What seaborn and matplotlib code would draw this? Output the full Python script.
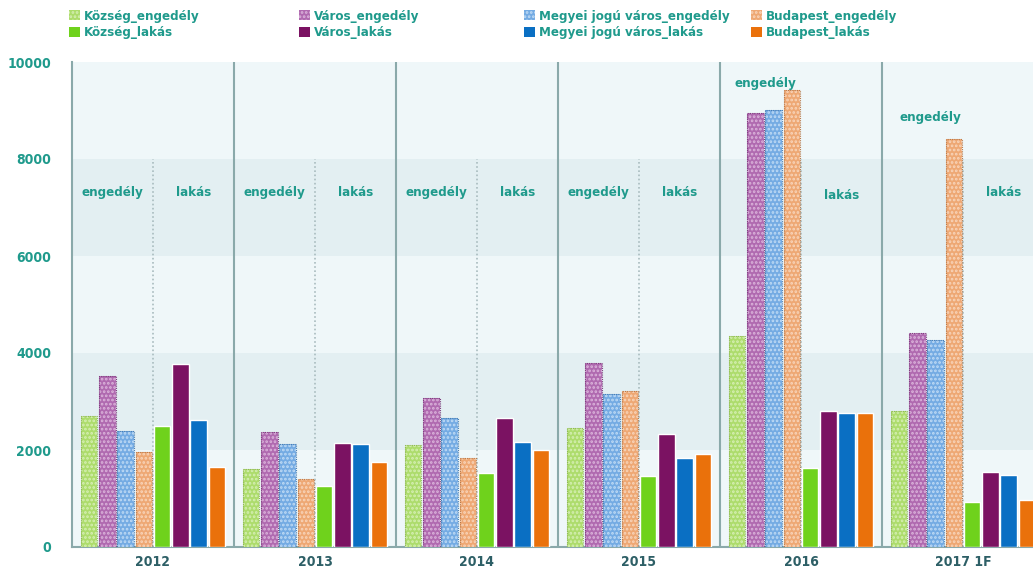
import matplotlib
matplotlib.use("Agg")
import matplotlib.pyplot as plt
from matplotlib.patches import Patch, Rectangle
import numpy as np
import pandas as pd
import seaborn as sns

# --- data -----------------------------------------------------------------
years = ["2012", "2013", "2014", "2015", "2016", "2017 1F"]

kozseg_engedely = [2700, 1600, 2100, 2450, 4350, 2800]
varos_engedely = [3520, 2370, 3070, 3800, 8950, 4420]
megyei_engedely = [2400, 2120, 2670, 3160, 9020, 4270]
budapest_engedely = [1960, 1410, 1840, 3210, 9420, 8420]

kozseg_lakas = [2500, 1250, 1530, 1460, 1620, 920]
varos_lakas = [3780, 2140, 2660, 2340, 2810, 1550]
megyei_lakas = [2620, 2120, 2160, 1840, 2770, 1480]
budapest_lakas = [1640, 1750, 2010, 1920, 2770, 970]

series_names = [
    "Község_engedély", "Város_engedély", "Megyei jogú város_engedély", "Budapest_engedély",
    "Község_lakás", "Város_lakás", "Megyei jogú város_lakás", "Budapest_lakás",
]
series_values = [
    kozseg_engedely, varos_engedely, megyei_engedely, budapest_engedely,
    kozseg_lakas, varos_lakas, megyei_lakas, budapest_lakas,
]

yticks = [0, 2000, 4000, 6000, 8000, 10000]

# --- style ----------------------------------------------------------------
colors = ["#addc6c", "#b06ab0", "#74abe3", "#eea874",
          "#6fd21c", "#7b1262", "#0a6fc3", "#ea710b"]
dot_colors = ["#d6efb4", "#dbb4db", "#c0dbf5", "#f8d5bb"]
outline_colors = ["#8fb45a", "#7d3f7d", "#4a7db0", "#b87a4c"]
teal = "#1f9a8c"
dark_teal = "#2d5f66"

sns.set_theme(style="white")
plt.rcParams["font.family"] = ["DejaVu Sans"]
plt.rcParams["font.stretch"] = "condensed"
plt.rcParams["font.weight"] = "bold"
plt.rcParams["hatch.linewidth"] = 1.3

df = pd.DataFrame(
    [(y, s, v) for s, vals in zip(series_names, series_values) for y, v in zip(years, vals)],
    columns=["year", "series", "value"],
)

fig = plt.figure(figsize=(10.33, 5.79), dpi=100)
ax = fig.add_axes([72 / 1033, 1 - 547 / 579, 972 / 1033, (547 - 62) / 579])
ax.set_facecolor("#eff7f9")

# horizontal shading bands
for lo, hi in [(2000, 4000), (6000, 8000)]:
    ax.axhspan(lo, hi, color="#e3eff2", zorder=0, lw=0)

sns.barplot(
    data=df, x="year", y="value", hue="series", hue_order=series_names,
    order=years, palette=colors, width=0.9, gap=0.1, ax=ax, legend=False,
    saturation=1, zorder=3,
)

# dotted texture and fine outline on the permit bars
for i, cont in enumerate(ax.containers[:4]):
    for bar in cont:
        bar.set_hatch("....")
        bar.set_edgecolor(dot_colors[i])
        bar.set_linewidth(0)
        ax.add_patch(Rectangle(bar.get_xy(), bar.get_width(), bar.get_height(),
                               fill=False, edgecolor=outline_colors[i], lw=0.8,
                               ls=(0, (1, 1)), zorder=3.5))

ax.set_xlim(-0.5, 5.5)
ax.set_ylim(0, 10000)
ax.set_yticks(yticks)
ax.set_yticklabels([str(t) for t in yticks])
ax.set_xlabel("")
ax.set_ylabel("")
ax.tick_params(axis="y", colors=teal, labelsize=10, length=0, pad=15)
ax.tick_params(axis="x", colors=dark_teal, labelsize=10, length=0, pad=6)

for sp in ["top", "right"]:
    ax.spines[sp].set_visible(False)
for sp in ["left", "bottom"]:
    ax.spines[sp].set_color("#8aa9aa")
    ax.spines[sp].set_linewidth(1.5)

# year separators and engedély / lakás dividers
for k in range(len(years)):
    if k > 0:
        ax.axvline(k - 0.5, color="#8aa9aa", lw=1.5, zorder=2)
    ax.plot([k, k], [0, 8000], color="#a9bcbf", lw=1.2, ls=(0, (1, 1.5)), zorder=2)

# section captions
cap_y = [7300, 7300, 7300, 7300, 9550, 8850]
lak_y = [7300, 7300, 7300, 7300, 7250, 7300]
eng_dx = [-0.25, -0.25, -0.25, -0.25, -0.22, -0.2]
for k in range(len(years)):
    ax.text(k + eng_dx[k], cap_y[k], "engedély", color=teal, fontsize=9.5,
            ha="center", va="center", zorder=4)
    ax.text(k + 0.25, lak_y[k], "lakás", color=teal, fontsize=9.5,
            ha="center", va="center", zorder=4)

# legend in four columns
col_x = [69, 299, 524, 751]
for c in range(4):
    handles = []
    for idx in (c, c + 4):
        h = Patch(facecolor=colors[idx], edgecolor=dot_colors[c] if idx < 4 else colors[idx],
                  hatch="...." if idx < 4 else None, lw=0, label=series_names[idx])
        handles.append(h)
    fig.legend(handles=handles, loc="upper left", bbox_to_anchor=(col_x[c] / 1033, 1 - 10 / 579),
               frameon=False, fontsize=9.5, labelcolor=teal, handlelength=0.8,
               handleheight=0.8, handletextpad=0.35, labelspacing=0.25, borderpad=0,
               borderaxespad=0)

fig.savefig("out.png", dpi=100, facecolor="white")
